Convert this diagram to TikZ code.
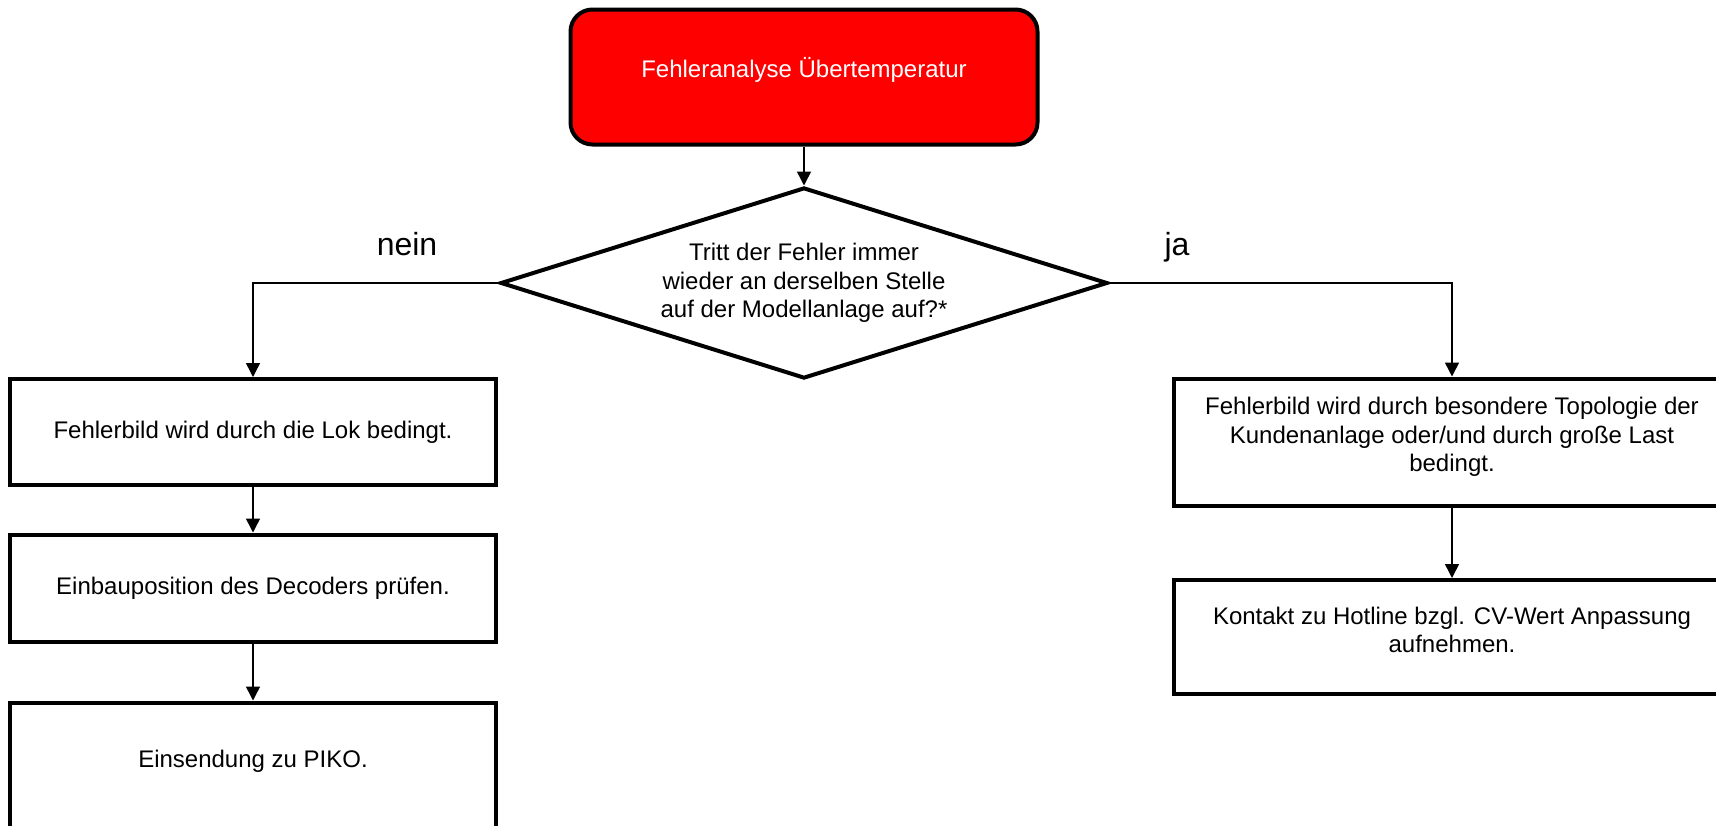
\documentclass[tikz,border=0pt]{standalone}
\usepackage{fontspec}
\setmainfont{Liberation Sans}
\usepackage{xcolor}
\usetikzlibrary{shapes.geometric,arrows.meta,positioning}
\definecolor{startred}{HTML}{FF0000}
\tikzstyle{flowtext} =[
    font=\fontsize{24}{28.5}\selectfont,
    align=center
    ]
\tikzstyle{startbox} = [
    flowtext,
    draw=black,
    fill=startred,
    text=white,
    line width=4pt,
    rounded corners=22pt,
    minimum width=467pt,
    minimum height=135pt
    ]
\tikzstyle{decision} = [
    flowtext,
    draw=black,
    diamond,
    aspect=3.18,
    line width=4pt,
    inner sep=0pt,
    minimum width=607pt,
    minimum height=191pt
    ]
\tikzstyle{flowbox} = [
    flowtext,
    draw=black,
    rectangle,
    line width=4pt,
    minimum width=486pt
    ]
\tikzstyle{flowline} = [
    line width=1.5pt,
    -{Triangle[length=14pt,width=14pt]}
    ]
\tikzstyle{branchlabel} = [
    font=\fontsize{32}{36}\selectfont,
    anchor=base
    ]

\begin{document}
\begin{tikzpicture}[x=1pt,y=-1pt]
\useasboundingbox (0,0) rectangle (1716,825);
\clip (0,0) rectangle (1716,825);

\node[startbox, text depth=19pt] (start) at (804,77) {Fehleranalyse Übertemperatur};
\node[decision] (decide) at (804,283) {Tritt der Fehler immer\\ wieder an derselben Stelle\\ auf der Modellanlage auf?*};

% nein branch
\node[flowbox, minimum height=106pt] (lok) at (253,432) {Fehlerbild wird durch die Lok bedingt.};
\node[flowbox, minimum height=107pt] (einbau) at (253,588) {Einbauposition des Decoders prüfen.};
\node[flowbox, minimum height=127pt, text depth=15pt] (piko) at (253,766) {Einsendung zu PIKO.};

% ja branch
\node[flowbox, minimum width=556pt, minimum height=127pt, text depth=15pt] (topo) at (1452,442) {Fehlerbild wird durch besondere Topologie der\\ Kundenanlage oder/und durch große Last\\ bedingt.};
\node[flowbox, minimum width=556pt, minimum height=114pt, text depth=14pt] (hotline) at (1452,637) {Kontakt zu Hotline bzgl. CV-Wert Anpassung\\ aufnehmen.};

\node[branchlabel] (lblnein) at (407,255) {nein};
\node[branchlabel] (lblja) at (1177,255) {ja};

\draw[flowline] (start) -- (decide);
\draw[flowline] (decide.west) -| (lok.north);
\draw[flowline] (lok) -- (einbau);
\draw[flowline] (einbau) -- (piko);
\draw[flowline] (decide.east) -| (topo.north);
\draw[flowline] (topo) -- (hotline);
\end{tikzpicture}
\end{document}
